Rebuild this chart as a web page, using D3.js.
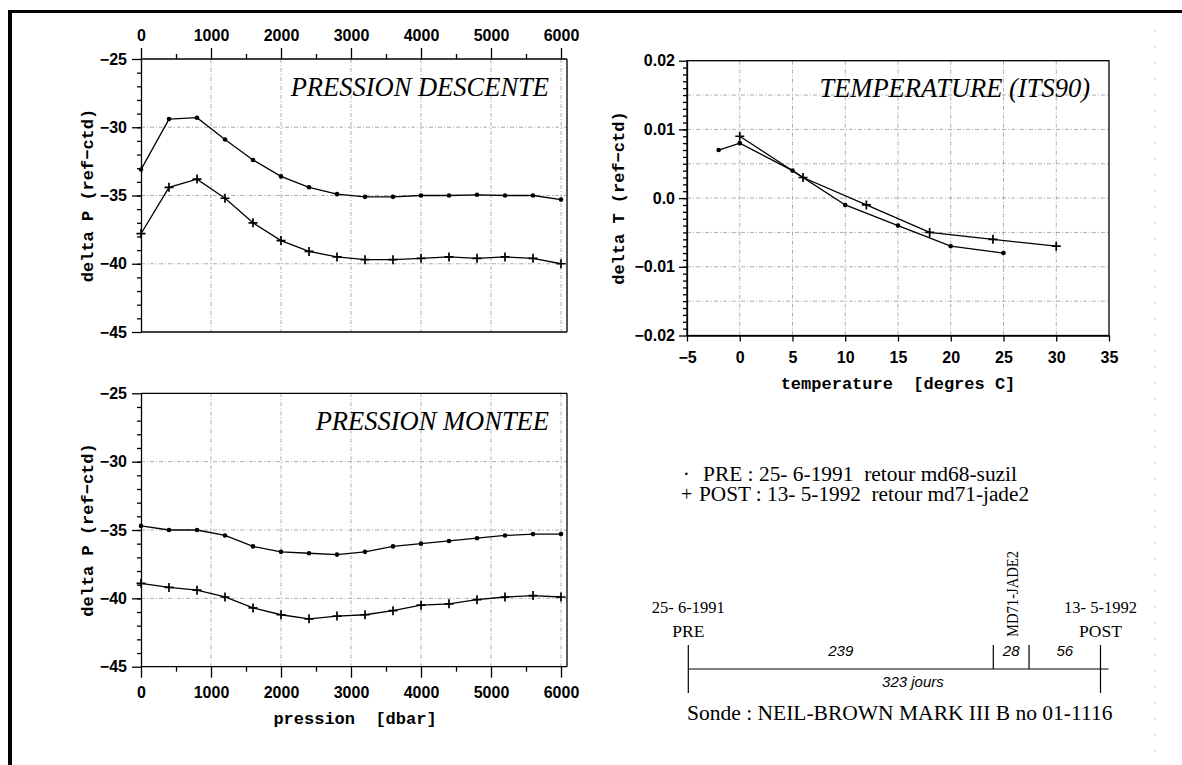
<!DOCTYPE html>
<html>
<head>
<meta charset="utf-8">
<script src="https://cdn.jsdelivr.net/npm/d3@7/dist/d3.min.js"></script>
<style>
  html, body { margin: 0; padding: 0; background: #fff; }
  svg { display: block; }
  .tick text { font-family: "Liberation Sans", Arial, sans-serif; font-weight: bold; font-size: 16px; fill: #000; }
  .axis path, .axis line { stroke: #000; stroke-width: 1.3; }
  .axtitle { font-family: "Liberation Mono", "Courier New", monospace; font-weight: bold; font-size: 17px; white-space: pre; }
  .ptitle { font-family: "Liberation Serif", "Times New Roman", serif; font-style: italic; font-size: 26.5px; }
  .serif { font-family: "Liberation Serif", "Times New Roman", serif; white-space: pre; }
  .ital { font-family: "Liberation Sans", Arial, sans-serif; font-style: italic; font-size: 15px; }
</style>
</head>
<body>
<svg id="chart" width="1182" height="765"></svg>
<script>
// Pressure levels (dbar) sampled every 400 dbar
const pressureLevels = [0, 400, 800, 1200, 1600, 2000, 2400, 2800, 3200, 3600, 4000, 4400, 4800, 5200, 5600, 6000];

// Descent: delta P (ref - ctd)
const descentPre  = [-33.1, -29.4, -29.3, -30.9, -32.4, -33.6, -34.4, -34.9, -35.1, -35.1, -35.0, -35.0, -34.95, -35.0, -35.0, -35.3];
const descentPost = [-37.8, -34.4, -33.8, -35.2, -37.0, -38.3, -39.1, -39.5, -39.7, -39.7, -39.6, -39.5, -39.6, -39.5, -39.6, -40.0];

// Ascent: delta P (ref - ctd)
const ascentPre  = [-34.7, -35.0, -35.0, -35.4, -36.2, -36.6, -36.7, -36.8, -36.6, -36.2, -36.0, -35.8, -35.6, -35.4, -35.3, -35.3];
const ascentPost = [-38.9, -39.2, -39.4, -39.9, -40.7, -41.2, -41.5, -41.3, -41.2, -40.9, -40.5, -40.4, -40.1, -39.9, -39.8, -39.9];

// Temperature calibration: delta T (ref - ctd) against temperature
const tempPreX  = [-2, 0, 5, 10, 15, 20, 25];
const tempPreY  = [0.007, 0.008, 0.004, -0.001, -0.004, -0.007, -0.008];
const tempPostX = [0, 6, 12, 18, 24, 30];
const tempPostY = [0.009, 0.003, -0.001, -0.005, -0.006, -0.007];

// Tick values and labels
const pressureTicks = [0, 1000, 2000, 3000, 4000, 5000, 6000];
const pressureMinor = [500, 1500, 2500, 3500, 4500, 5500];
const deltaPTicks = [-25, -30, -35, -40, -45];
const deltaPLabels = ["\u221225", "\u221230", "\u221235", "\u221240", "\u221245"];
const tempTicks = [-5, 0, 5, 10, 15, 20, 25, 30, 35];
const tempLabels = ["\u22125", "0", "5", "10", "15", "20", "25", "30", "35"];
const deltaTTicks = [0.02, 0.01, 0, -0.01, -0.02];
const deltaTLabels = ["0.02", "0.01", "0.0", "\u22120.01", "\u22120.02"];
const deltaTGrid = [0.015, 0.01, 0.005, 0, -0.005, -0.01, -0.015];

// Deployment timeline (days between calibrations)
const timelineSegments = [239, 28, 56];
const timelineTotal = 323;

const svg = d3.select("#chart");

// page frame
svg.append("line").attr("x1", 8).attr("x2", 1182).attr("y1", 11.5).attr("y2", 11.5)
  .attr("stroke", "#000").attr("stroke-width", 3.2);
svg.append("line").attr("x1", 10).attr("x2", 10).attr("y1", 10).attr("y2", 765)
  .attr("stroke", "#000").attr("stroke-width", 4);
svg.append("line").attr("x1", 1155).attr("x2", 1155).attr("y1", 30).attr("y2", 765)
  .attr("stroke", "#bbb").attr("stroke-width", 0.8).attr("stroke-dasharray", "2,14");

const gridStyle = sel => sel.attr("stroke", "#999").attr("stroke-width", 0.8).attr("stroke-dasharray", "4,2,1,2");

function drawMarkers(g, pts, kind) {
  if (kind === "dot") {
    g.selectAll(null).data(pts).enter().append("circle")
      .attr("cx", d => d[0]).attr("cy", d => d[1]).attr("r", 2.3).attr("fill", "#000");
  } else {
    const s = 4.5;
    g.selectAll(null).data(pts).enter().append("path")
      .attr("d", d => `M${d[0]-s},${d[1]}H${d[0]+s}M${d[0]},${d[1]-s}V${d[1]+s}`)
      .attr("stroke", "#000").attr("stroke-width", 1.7).attr("fill", "none");
  }
}

function drawSeries(g, xs, ys, x, y, kind) {
  const pts = xs.map((v, i) => [x(v), y(ys[i])]);
  g.append("path").attr("d", d3.line()(pts))
    .attr("fill", "none").attr("stroke", "#000").attr("stroke-width", 1.3);
  drawMarkers(g, pts, kind);
}

// Pressure panels (descent on top, ascent below)
function pressurePanel(top, bottom, title, pre, post, axisOnTop) {
  const x = d3.scaleLinear().domain([0, 6000]).range([141, 561]);
  const y = d3.scaleLinear().domain([-45, -25]).range([bottom, top]);
  const right = x(6000) + 6;
  const g = svg.append("g");

  // grid
  g.selectAll(null).data(pressureTicks.slice(1)).enter().append("line")
    .attr("x1", d => x(d)).attr("x2", d => x(d)).attr("y1", top).attr("y2", bottom).call(gridStyle);
  g.selectAll(null).data(deltaPTicks.slice(1, -1)).enter().append("line")
    .attr("x1", 141).attr("x2", right).attr("y1", d => y(d)).attr("y2", d => y(d)).call(gridStyle);

  // frame lines
  g.append("line").attr("x1", right).attr("x2", right).attr("y1", top).attr("y2", bottom)
    .attr("stroke", "#000").attr("stroke-width", 1.3);
  const other = axisOnTop ? bottom : top;
  g.append("line").attr("x1", 141).attr("x2", right).attr("y1", other).attr("y2", other)
    .attr("stroke", "#000").attr("stroke-width", 1.3);

  // x axis
  const axY = axisOnTop ? top : bottom;
  const mk = axisOnTop ? d3.axisTop : d3.axisBottom;
  const xa = g.append("g").attr("class", "axis").attr("transform", `translate(0,${axY})`)
    .call(mk(x).tickValues(pressureTicks).tickFormat(d3.format("d")).tickSizeInner(11).tickSizeOuter(0)
      .tickPadding(axisOnTop ? 7 : 9));
  xa.select(".domain").attr("d", `M141,0H${right}`);
  g.append("g").attr("class", "axis").attr("transform", `translate(0,${axY})`)
    .call(mk(x).tickValues(pressureMinor).tickFormat("").tickSizeInner(5).tickSizeOuter(0))
    .select(".domain").remove();

  // y axis
  g.append("g").attr("class", "axis").attr("transform", "translate(141,0)")
    .call(d3.axisLeft(y).tickValues(deltaPTicks).tickFormat((d, i) => deltaPLabels[i])
      .tickSizeInner(9).tickSizeOuter(0).tickPadding(5));
  g.append("g").attr("class", "axis").attr("transform", "translate(141,0)")
    .call(d3.axisLeft(y).tickValues(d3.range(-44, -25)).tickFormat("").tickSizeInner(4).tickSizeOuter(0))
    .select(".domain").remove();

  g.append("text").attr("class", "axtitle")
    .attr("transform", `translate(93,${(top + bottom) / 2}) rotate(-90)`)
    .attr("text-anchor", "middle").text("delta P (ref\u2212ctd)");

  g.append("text").attr("class", "ptitle").attr("x", 549).attr("y", top + 36.5)
    .attr("text-anchor", "end").text(title);

  drawSeries(g, pressureLevels, pre, x, y, "dot");
  drawSeries(g, pressureLevels, post, x, y, "plus");
  return { x, y };
}

pressurePanel(59, 332, "PRESSION DESCENTE", descentPre, descentPost, true);
pressurePanel(393.3, 666.7, "PRESSION MONTEE", ascentPre, ascentPost, false);

svg.append("text").attr("class", "axtitle").attr("x", 355).attr("y", 724)
  .attr("text-anchor", "middle").text("pression  [dbar]");

// Temperature panel
(function () {
  const x = d3.scaleLinear().domain([-5, 35]).range([687, 1109]);
  const y = d3.scaleLinear().domain([-0.02, 0.02]).range([335.5, 60.7]);
  const g = svg.append("g");

  g.selectAll(null).data(tempTicks.slice(1, -1)).enter().append("line")
    .attr("x1", d => x(d)).attr("x2", d => x(d)).attr("y1", y(0.02)).attr("y2", y(-0.02)).call(gridStyle);
  g.selectAll(null).data(deltaTGrid).enter().append("line")
    .attr("x1", x(-5)).attr("x2", x(35)).attr("y1", d => y(d)).attr("y2", d => y(d)).call(gridStyle);

  g.append("rect").attr("x", x(-5)).attr("y", y(0.02)).attr("width", x(35) - x(-5))
    .attr("height", y(-0.02) - y(0.02)).attr("fill", "none").attr("stroke", "#000").attr("stroke-width", 1.3);

  g.append("g").attr("class", "axis").attr("transform", `translate(0,${y(-0.02)})`)
    .call(d3.axisBottom(x).tickValues(tempTicks).tickFormat((d, i) => tempLabels[i])
      .tickSizeInner(6).tickSizeOuter(0).tickPadding(10));
  g.append("g").attr("class", "axis").attr("transform", `translate(${x(-5)},0)`)
    .call(d3.axisLeft(y).tickValues(deltaTTicks).tickFormat((d, i) => deltaTLabels[i])
      .tickSizeInner(8).tickSizeOuter(0).tickPadding(4));
  g.append("g").attr("class", "axis").attr("transform", `translate(${x(-5)},0)`)
    .call(d3.axisLeft(y).tickValues(d3.range(-19, 20).map(v => v / 1000)).tickFormat("")
      .tickSizeInner(4).tickSizeOuter(0))
    .select(".domain").remove();

  g.append("text").attr("class", "axtitle")
    .attr("transform", `translate(624,${(y(0.02) + y(-0.02)) / 2}) rotate(-90)`)
    .attr("text-anchor", "middle").text("delta T (ref\u2212ctd)");
  g.append("text").attr("class", "axtitle").attr("x", (x(-5) + x(35)) / 2).attr("y", 389)
    .attr("text-anchor", "middle").text("temperature  [degres C]");

  g.append("text").attr("class", "ptitle").attr("x", 1090).attr("y", 97)
    .attr("text-anchor", "end").text("TEMPERATURE (ITS90)");

  drawSeries(g, tempPreX, tempPreY, x, y, "dot");
  drawSeries(g, tempPostX, tempPostY, x, y, "plus");
})();

// Legend
const legend = svg.append("g").attr("class", "serif").attr("font-size", 20);
legend.append("text").attr("x", 683).attr("y", 481).text("\u00b7");
legend.append("text").attr("x", 703).attr("y", 481).attr("xml:space", "preserve")
  .attr("textLength", 314).attr("lengthAdjust", "spacingAndGlyphs")
  .text("PRE : 25- 6-1991  retour md68-suzil");
legend.append("text").attr("x", 681).attr("y", 501).text("+");
legend.append("text").attr("x", 699).attr("y", 501).attr("xml:space", "preserve")
  .attr("textLength", 330).attr("lengthAdjust", "spacingAndGlyphs")
  .text("POST : 13- 5-1992  retour md71-jade2");

// Timeline between calibrations
(function () {
  const t = d3.scaleLinear().domain([0, timelineTotal]).range([688.3, 1100.5]);
  const g = svg.append("g");
  const lineY = 669;
  const bounds = [0];
  timelineSegments.forEach(d => bounds.push(bounds[bounds.length - 1] + d));

  g.append("line").attr("x1", t(0)).attr("x2", t(timelineTotal) + 8).attr("y1", lineY).attr("y2", lineY)
    .attr("stroke", "#000").attr("stroke-width", 1.2);
  g.selectAll(null).data(bounds).enter().append("line")
    .attr("x1", d => t(d)).attr("x2", d => t(d))
    .attr("y1", 645)
    .attr("y2", (d, i) => (i === 0 || i === bounds.length - 1) ? 693 : lineY)
    .attr("stroke", "#000").attr("stroke-width", 1.2);

  g.selectAll(null).data(timelineSegments).enter().append("text").attr("class", "ital")
    .attr("x", (d, i) => (t(bounds[i]) + t(bounds[i + 1])) / 2).attr("y", 656)
    .attr("text-anchor", "middle").text(d => d);
  g.append("text").attr("class", "ital").attr("x", t(timelineTotal * 0.545)).attr("y", 687)
    .attr("text-anchor", "middle").text(timelineTotal + " jours");

  const s = g.append("g").attr("class", "serif");
  s.append("text").attr("x", t(0)).attr("y", 613).attr("font-size", 16.5).attr("text-anchor", "middle").text("25- 6-1991");
  s.append("text").attr("x", t(0)).attr("y", 637).attr("font-size", 17.5).attr("text-anchor", "middle").text("PRE");
  s.append("text").attr("x", t(timelineTotal)).attr("y", 613).attr("font-size", 16.5).attr("text-anchor", "middle").text("13- 5-1992");
  s.append("text").attr("x", t(timelineTotal)).attr("y", 637).attr("font-size", 17.5).attr("text-anchor", "middle").text("POST");
  s.append("text").attr("transform", `translate(${(t(bounds[1]) + t(bounds[2])) / 2 + 6.5},637) rotate(-90)`)
    .attr("font-size", 16).attr("textLength", 86).attr("lengthAdjust", "spacingAndGlyphs").text("MD71-JADE2");
})();

svg.append("text").attr("class", "serif").attr("x", 687).attr("y", 720).attr("font-size", 21.5)
  .text("Sonde : NEIL-BROWN MARK III B no 01-1116");
</script>
</body>
</html>
